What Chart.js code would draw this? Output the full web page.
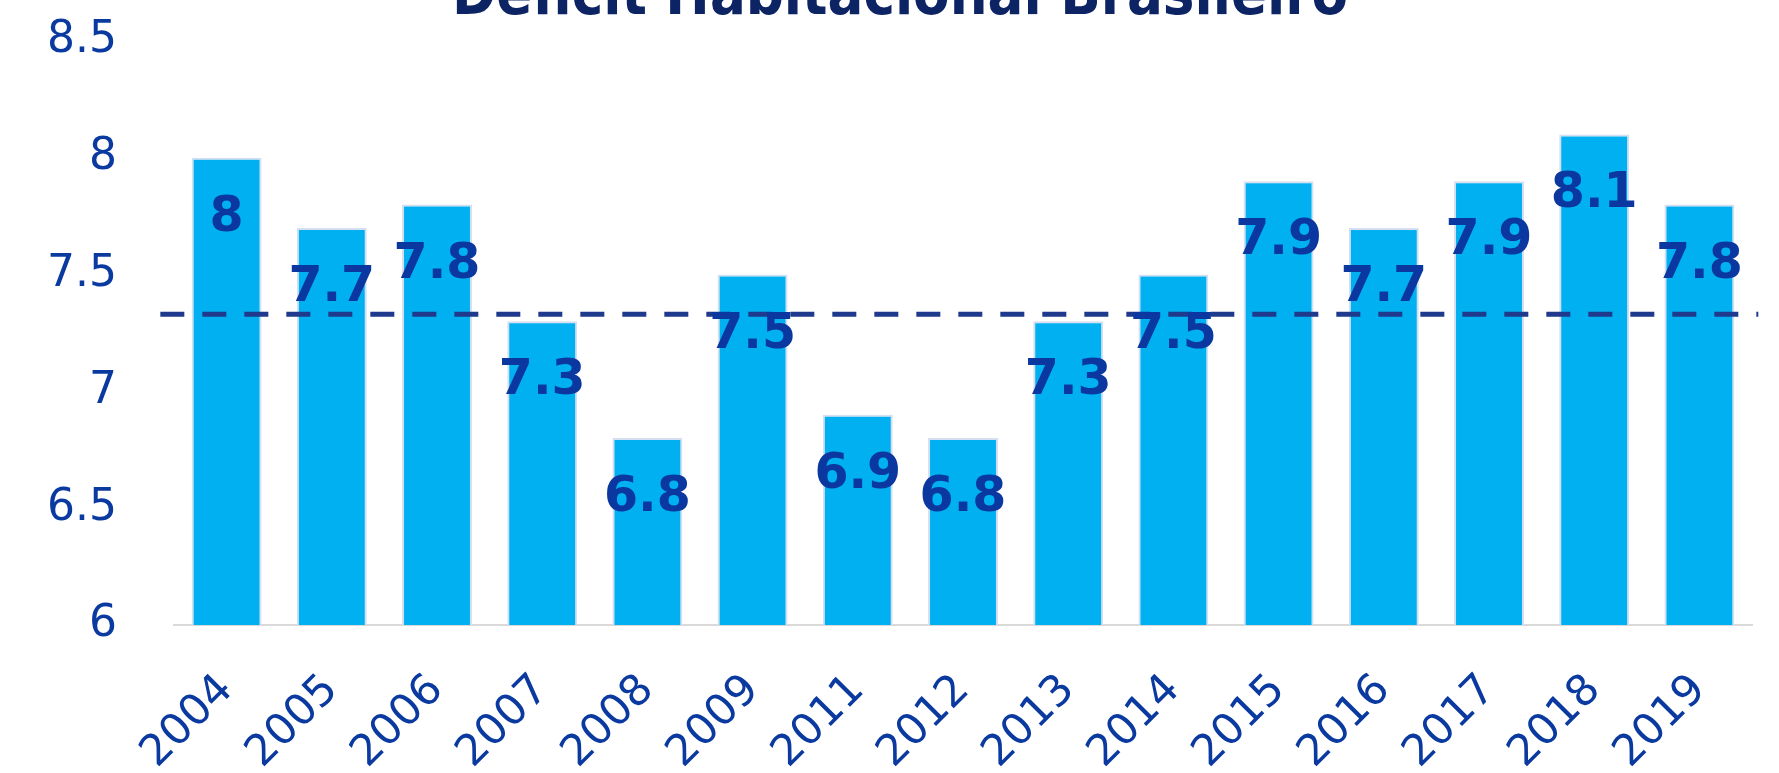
<!DOCTYPE html>
<html>
<head>
<meta charset="utf-8">
<script src="https://cdn.jsdelivr.net/npm/chart.js@4"></script>
<style>
html,body{margin:0;padding:0;background:#fff;}
#wrap{width:1779px;height:773px;position:relative;}
</style>
</head>
<body>
<div id="wrap"><canvas id="c"></canvas></div>
<script>
// ---- data ----
const titleText = "Déficit Habitacional Brasileiro";
const years = ["2004","2005","2006","2007","2008","2009","2011","2012","2013","2014","2015","2016","2017","2018","2019"];
const deficit = [8, 7.7, 7.8, 7.3, 6.8, 7.5, 6.9, 6.8, 7.3, 7.5, 7.9, 7.7, 7.9, 8.1, 7.8];
const referenceLevel = 7.33;
const referenceSpan = [-0.63, 14.56];   // in category-index units
const yRange = [6, 8.5];
const yStep = 0.5;

const TICK_COLOR = '#0A3AA0';
const LABEL_COLOR = '#0A37A0';

const titlePlugin = {
  id: 'clippedTitle',
  afterDraw(chart) {
    const ctx = chart.ctx;
    ctx.save();
    ctx.font = "bold 60px 'Liberation Sans Narrow','DejaVu Sans Condensed','Liberation Sans',sans-serif";
    const w = ctx.measureText(titleText).width;
    const sx = 896 / w;
    ctx.fillStyle = '#0C2463';
    ctx.textAlign = 'center';
    ctx.textBaseline = 'alphabetic';
    ctx.translate(900, 14);
    ctx.scale(sx, 1);
    ctx.fillText(titleText, 0, 0);
    ctx.restore();
  }
};

const valueLabels = {
  id: 'valueLabels',
  afterDatasetsDraw(chart) {
    const ctx = chart.ctx;
    const idx = chart.data.datasets.findIndex(d => d.type === 'bar');
    const meta = chart.getDatasetMeta(idx);
    ctx.save();
    ctx.font = "bold 49px 'DejaVu Sans', sans-serif";
    ctx.fillStyle = LABEL_COLOR;
    ctx.textAlign = 'center';
    ctx.textBaseline = 'alphabetic';
    meta.data.forEach((bar, i) => {
      const v = chart.data.datasets[idx].data[i];
      ctx.fillText(String(v), bar.x, bar.y + 55 + 18);
    });
    ctx.restore();
  }
};

new Chart(document.getElementById('c'), {
  type: 'bar',
  data: {
    labels: years,
    datasets: [
      {
        type: 'line',
        label: 'Referência',
        xAxisID: 'xr',
        yAxisID: 'y',
        data: [{x: referenceSpan[0], y: referenceLevel}, {x: referenceSpan[1], y: referenceLevel}],
        borderColor: '#1F3A8C',
        borderWidth: 5,
        borderDash: [24, 18],
        borderCapStyle: 'butt',
        pointRadius: 0,
        fill: false,
        clip: false,
        order: 0
      },
      {
        type: 'bar',
        label: 'Déficit',
        xAxisID: 'x',
        yAxisID: 'y',
        data: deficit,
        backgroundColor: '#00B0F0',
        borderColor: '#D6DFF2',
        borderWidth: 2,
        borderSkipped: false,
        grouped: false,
        categoryPercentage: 1,
        barPercentage: 0.665,
        order: 1
      }
    ]
  },
  options: {
    responsive: true,
    maintainAspectRatio: false,
    animation: false,
    devicePixelRatio: 1,
    layout: { padding: { top: 41, right: 27, left: 0, bottom: 0 } },
    plugins: {
      legend: { display: false },
      title: { display: false },
      tooltip: { enabled: false }
    },
    scales: {
      x: {
        type: 'category',
        offset: true,
        grid: { display: false, drawTicks: false },
        border: { display: true, color: '#D9D9D9', width: 2 },
        ticks: {
          color: TICK_COLOR,
          font: { family: "'DejaVu Sans', sans-serif", size: 43 },
          maxRotation: 45,
          minRotation: 45,
          padding: 40,
          autoSkip: false
        },
        afterFit(scale) { scale.height = 148; }
      },
      xr: {
        type: 'linear',
        display: false,
        offset: false,
        min: -0.5,
        max: years.length - 0.5
      },
      y: {
        min: yRange[0],
        max: yRange[1],
        grid: { display: false, drawTicks: true, tickLength: 57 },
        border: { display: false },
        ticks: {
          stepSize: yStep,
          color: TICK_COLOR,
          font: { family: "'DejaVu Sans', sans-serif", size: 44 },
          padding: 0,
          labelOffset: 0,
          callback: (v) => String(v)
        },
        afterFit(scale) { scale.width = 174; }
      }
    }
  },
  plugins: [titlePlugin, valueLabels]
});
</script>
</body>
</html>
